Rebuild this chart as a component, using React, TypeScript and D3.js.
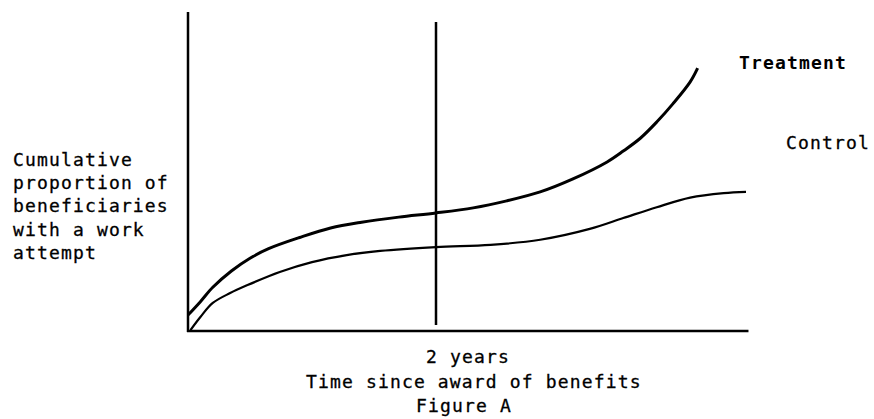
import React from "react";
import * as d3 from "d3";

const W = 874;
const H = 419;

// Time since award (years) and cumulative proportion
const treatmentYears = [0, 0.1, 0.2, 0.35, 0.5, 0.65, 0.9, 1.15, 1.4, 1.7, 2.0, 2.3, 2.57, 2.84, 3.1, 3.38, 3.51, 3.65, 3.78, 3.91, 4.05, 4.11];
const treatmentValues = [0.05, 0.092, 0.137, 0.188, 0.228, 0.258, 0.293, 0.323, 0.341, 0.357, 0.37, 0.386, 0.408, 0.436, 0.476, 0.53, 0.564, 0.605, 0.655, 0.712, 0.781, 0.824];

const controlYears = [0.02, 0.1, 0.2, 0.34, 0.48, 0.74, 1.0, 1.28, 1.55, 2.0, 2.44, 2.84, 3.24, 3.51, 3.78, 4.05, 4.32, 4.5];
const controlValues = [0.003, 0.044, 0.088, 0.119, 0.144, 0.185, 0.216, 0.238, 0.251, 0.263, 0.27, 0.286, 0.32, 0.354, 0.388, 0.418, 0.432, 0.436];

const markerYears = 2;
const xAxisEnd = 4.52;

const yLabelLines = ["Cumulative", "proportion of", "beneficiaries", "with a work", "attempt"];
const seriesLabels = ["Treatment", "Control"];
const markerLabel = "2 years";
const xTitle = "Time since award of benefits";
const figureTitle = "Figure A";

const FONT = "'DejaVu Sans Mono', 'Liberation Mono', monospace";

export default function App() {
  const x = d3.scaleLinear().domain([0, 2]).range([188, 436]);
  const y = d3.scaleLinear().domain([0, 1]).range([331, 12]);

  const line = d3
    .line<[number, number]>()
    .x((d) => x(d[0]))
    .y((d) => y(d[1]))
    .curve(d3.curveCatmullRom.alpha(0.5));

  const tData = treatmentYears.map((v, i) => [v, treatmentValues[i]] as [number, number]);
  const cData = controlYears.map((v, i) => [v, controlValues[i]] as [number, number]);

  const textStyle: React.CSSProperties = {
    fontFamily: FONT,
    fontSize: 18,
    letterSpacing: 1.15,
    fill: "#000",
    stroke: "#000",
    strokeWidth: 0.3,
  };
  const boldStyle: React.CSSProperties = { ...textStyle, fontWeight: "bold", strokeWidth: 0 };

  return (
    <div style={{ position: "fixed", left: 0, top: 0, width: W, height: H, background: "#fff" }}>
      <svg width={W} height={H} viewBox={`0 0 ${W} ${H}`}>
        <rect width={W} height={H} fill="#fff" />
        {/* axes */}
        <line x1={x(0)} x2={x(0)} y1={y(1)} y2={y(0) + 1} stroke="#000" strokeWidth={2.5} />
        <line x1={x(0) - 1} x2={x(xAxisEnd)} y1={y(0)} y2={y(0)} stroke="#000" strokeWidth={2.5} />
        {/* 2-year marker */}
        <line x1={x(markerYears)} x2={x(markerYears)} y1={22} y2={325} stroke="#000" strokeWidth={2.5} />
        {/* curves */}
        <path d={line(tData) ?? ""} fill="none" stroke="#000" strokeWidth={3} />
        <path d={line(cData) ?? ""} fill="none" stroke="#000" strokeWidth={2.2} />
        {/* y label */}
        {yLabelLines.map((t, i) => (
          <text key={t} x={13} y={166 + i * 23.2} style={textStyle}>
            {t}
          </text>
        ))}
        {/* series labels */}
        <text x={739} y={69} style={boldStyle}>
          {seriesLabels[0]}
        </text>
        <text x={786} y={149} style={textStyle}>
          {seriesLabels[1]}
        </text>
        {/* bottom texts */}
        <text x={426} y={363} style={textStyle}>
          {markerLabel}
        </text>
        <text x={306} y={388} style={textStyle}>
          {xTitle}
        </text>
        <text x={416} y={412} style={textStyle}>
          {figureTitle}
        </text>
      </svg>
    </div>
  );
}
